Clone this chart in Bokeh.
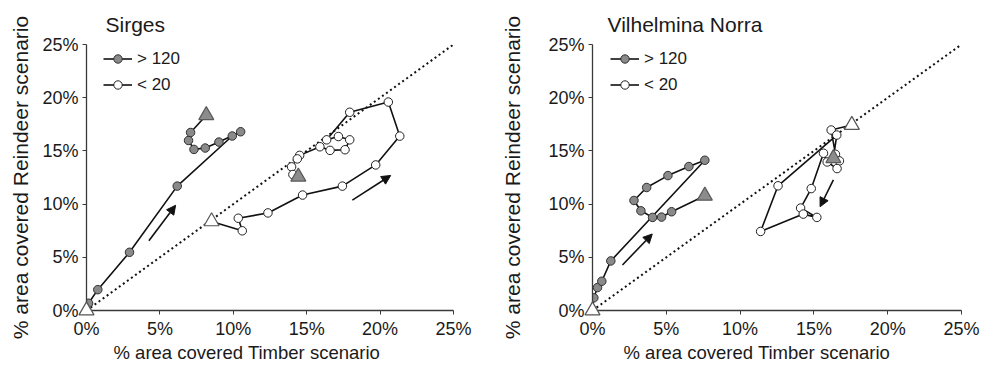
from bokeh.plotting import figure
from bokeh.layouts import row
from bokeh.models import Range1d, FixedTicker, Legend, LegendItem, Arrow, NormalHead, Title
from bokeh.embed import file_html
from bokeh.resources import INLINE

# ---- data (percent) ----
pct_ticks = [0, 5, 10, 15, 20, 25]
pct_labels = ["0%", "5%", "10%", "15%", "20%", "25%"]
diag = [0, 25]

# Sirges: > 120 (first = start triangle, last = end triangle)
sir_hi_x = [0.0, 0.14, 0.77, 2.93, 6.18, 9.93, 10.5, 9.02, 8.09, 7.32, 6.95, 7.09, 8.16]
sir_hi_y = [0.0, 0.68, 1.96, 5.47, 11.69, 16.4, 16.8, 15.83, 15.27, 15.14, 15.98, 16.73, 18.35]
# Sirges: < 20
sir_lo_x = [8.52, 10.61, 10.34, 12.36, 14.72, 17.43, 19.7, 21.34, 20.56, 17.93, 16.36, 17.16,
            17.93, 17.61, 16.59, 15.9, 14.52, 14.36, 13.97, 14.06, 14.43]
sir_lo_y = [8.37, 7.49, 8.67, 9.17, 10.85, 11.69, 13.68, 16.39, 19.59, 18.63, 16.04, 16.35,
            16.04, 15.11, 15.05, 15.39, 14.58, 14.25, 13.5, 12.78, 12.57]
sir_arrows = [(4.25, 6.56, 6.07, 9.89), (18.11, 10.38, 20.72, 12.69)]

# Vilhelmina Norra: > 120
vil_hi_x = [0.0, 0.09, 0.34, 0.63, 1.24, 7.61, 6.53, 5.11, 3.67, 2.81, 3.28, 4.07, 4.68, 5.36, 7.61]
vil_hi_y = [0.0, 1.19, 2.16, 2.75, 4.66, 14.12, 13.53, 12.68, 11.56, 10.34, 9.37, 8.75, 8.78, 9.28, 10.78]
# Vilhelmina Norra: < 20
vil_lo_x = [17.57, 16.17, 16.46, 16.73, 16.57, 15.9, 15.65, 14.82, 14.1, 15.2, 14.28, 11.39, 12.57, 16.55, 16.32]
vil_lo_y = [17.43, 16.96, 14.68, 14.06, 13.34, 13.96, 14.78, 11.46, 9.63, 8.75, 9.06, 7.43, 11.72, 16.49, 14.31]
vil_arrows = [(2.03, 4.28, 4.05, 7.19), (16.32, 12.28, 15.42, 9.75)]

FONT = "Liberation Sans"
TXT = "#1a1a1a"


def make_panel(title, hi_x, hi_y, lo_x, lo_y, arrows, width, left, frame_w, top, frame_h,
               title_off, xlab_off, ylab_standoff, leg_x, leg_y):
    height = 371
    p = figure(width=width, height=height, x_range=Range1d(0, 25), y_range=Range1d(0, 25),
               output_backend="svg", toolbar_location=None,
               min_border_left=left, min_border_right=width - left - frame_w,
               min_border_top=top, min_border_bottom=height - top - frame_h)
    p.outline_line_color = None
    p.grid.visible = False
    p.background_fill_color = "white"
    p.border_fill_color = "white"

    p.title.text = title
    p.title.text_font = FONT
    p.title.text_font_size = "21px"
    p.title.text_font_style = "normal"
    p.title.text_color = TXT
    p.title.align = "left"
    p.title.offset = title_off
    p.title.vertical_align = "top"
    p.title.standoff = 14

    for ax in (p.xaxis[0], p.yaxis[0]):
        ax.ticker = FixedTicker(ticks=pct_ticks)
        ax.major_label_overrides = {t: l for t, l in zip(pct_ticks, pct_labels)}
        ax.axis_line_color = "#3a3a3a"
        ax.axis_line_width = 1.3
        ax.major_tick_line_color = "#3a3a3a"
        ax.major_tick_out = 4
        ax.major_tick_in = 0
        ax.minor_tick_line_color = None
        ax.major_label_text_font = FONT
        ax.major_label_text_font_size = "18px"
        ax.major_label_text_color = TXT
    p.xaxis.major_label_standoff = 4
    p.yaxis.major_label_standoff = 4
    p.yaxis.axis_label = "% area covered Reindeer scenario"
    p.yaxis.axis_label_text_font = FONT
    p.yaxis.axis_label_text_font_size = "21px"
    p.yaxis.axis_label_text_font_style = "normal"
    p.yaxis.axis_label_text_color = TXT
    p.yaxis.axis_label_standoff = ylab_standoff

    xt = Title(text="% area covered Timber scenario", align="left", offset=xlab_off,
               vertical_align="top", text_font=FONT, text_font_size="18.5px",
               text_font_style="normal", text_color=TXT, standoff=0)
    p.add_layout(xt, "below")

    # dotted 1:1 line
    p.line(diag, diag, line_color="#111111", line_width=2, line_dash="2 3")

    l_hi = p.line(hi_x, hi_y, line_color="#111111", line_width=1.6)
    l_lo = p.line(lo_x, lo_y, line_color="#111111", line_width=1.6)
    c_hi = p.scatter(hi_x[1:-1], hi_y[1:-1], marker="circle", size=8.5,
                     fill_color="#8a8a8a", line_color="#303030", line_width=1)
    c_lo = p.scatter(lo_x[1:-1], lo_y[1:-1], marker="circle", size=8.5,
                     fill_color="white", line_color="#222222", line_width=1)

    for (x0, y0, x1, y1) in arrows:
        p.add_layout(Arrow(x_start=x0, y_start=y0, x_end=x1, y_end=y1,
                           line_color="#111111", line_width=1.6,
                           end=NormalHead(size=9, fill_color="#111111", line_color="#111111")))

    # start triangles (white) and end triangles (grey)
    starts = p.scatter([hi_x[0], lo_x[0]], [hi_y[0], lo_y[0]], marker="triangle", size=15,
                       fill_color="white", line_color="#555555", line_width=1.2)
    starts.level = "overlay"
    p.scatter([hi_x[-1], lo_x[-1]], [hi_y[-1], lo_y[-1]], marker="triangle", size=15,
              fill_color="#8c8c8c", line_color="#5a5a5a", line_width=1.2)

    legend = Legend(items=[LegendItem(label="> 120", renderers=[l_hi, c_hi]),
                           LegendItem(label="< 20", renderers=[l_lo, c_lo])],
                    location=(leg_x, leg_y), orientation="vertical",
                    border_line_color=None, background_fill_alpha=0,
                    padding=0, margin=0, spacing=5,
                    glyph_width=29, glyph_height=21, label_height=21, label_standoff=5,
                    label_text_font=FONT, label_text_font_size="17px", label_text_color=TXT)
    p.add_layout(legend)
    return p


p1 = make_panel("Sirges", sir_hi_x, sir_hi_y, sir_lo_x, sir_lo_y, sir_arrows,
                width=498, left=86, frame_w=367, top=44, frame_h=268, title_off=19, xlab_off=27,
                ylab_standoff=7, leg_x=17, leg_y=215)
p2 = make_panel("Vilhelmina Norra", vil_hi_x, vil_hi_y, vil_lo_x, vil_lo_y, vil_arrows,
                width=488, left=93, frame_w=370, top=43, frame_h=267, title_off=15, xlab_off=31,
                ylab_standoff=21, leg_x=18, leg_y=215)

layout = row(p1, p2)
open("out.html", "w").write(file_html(layout, INLINE))
